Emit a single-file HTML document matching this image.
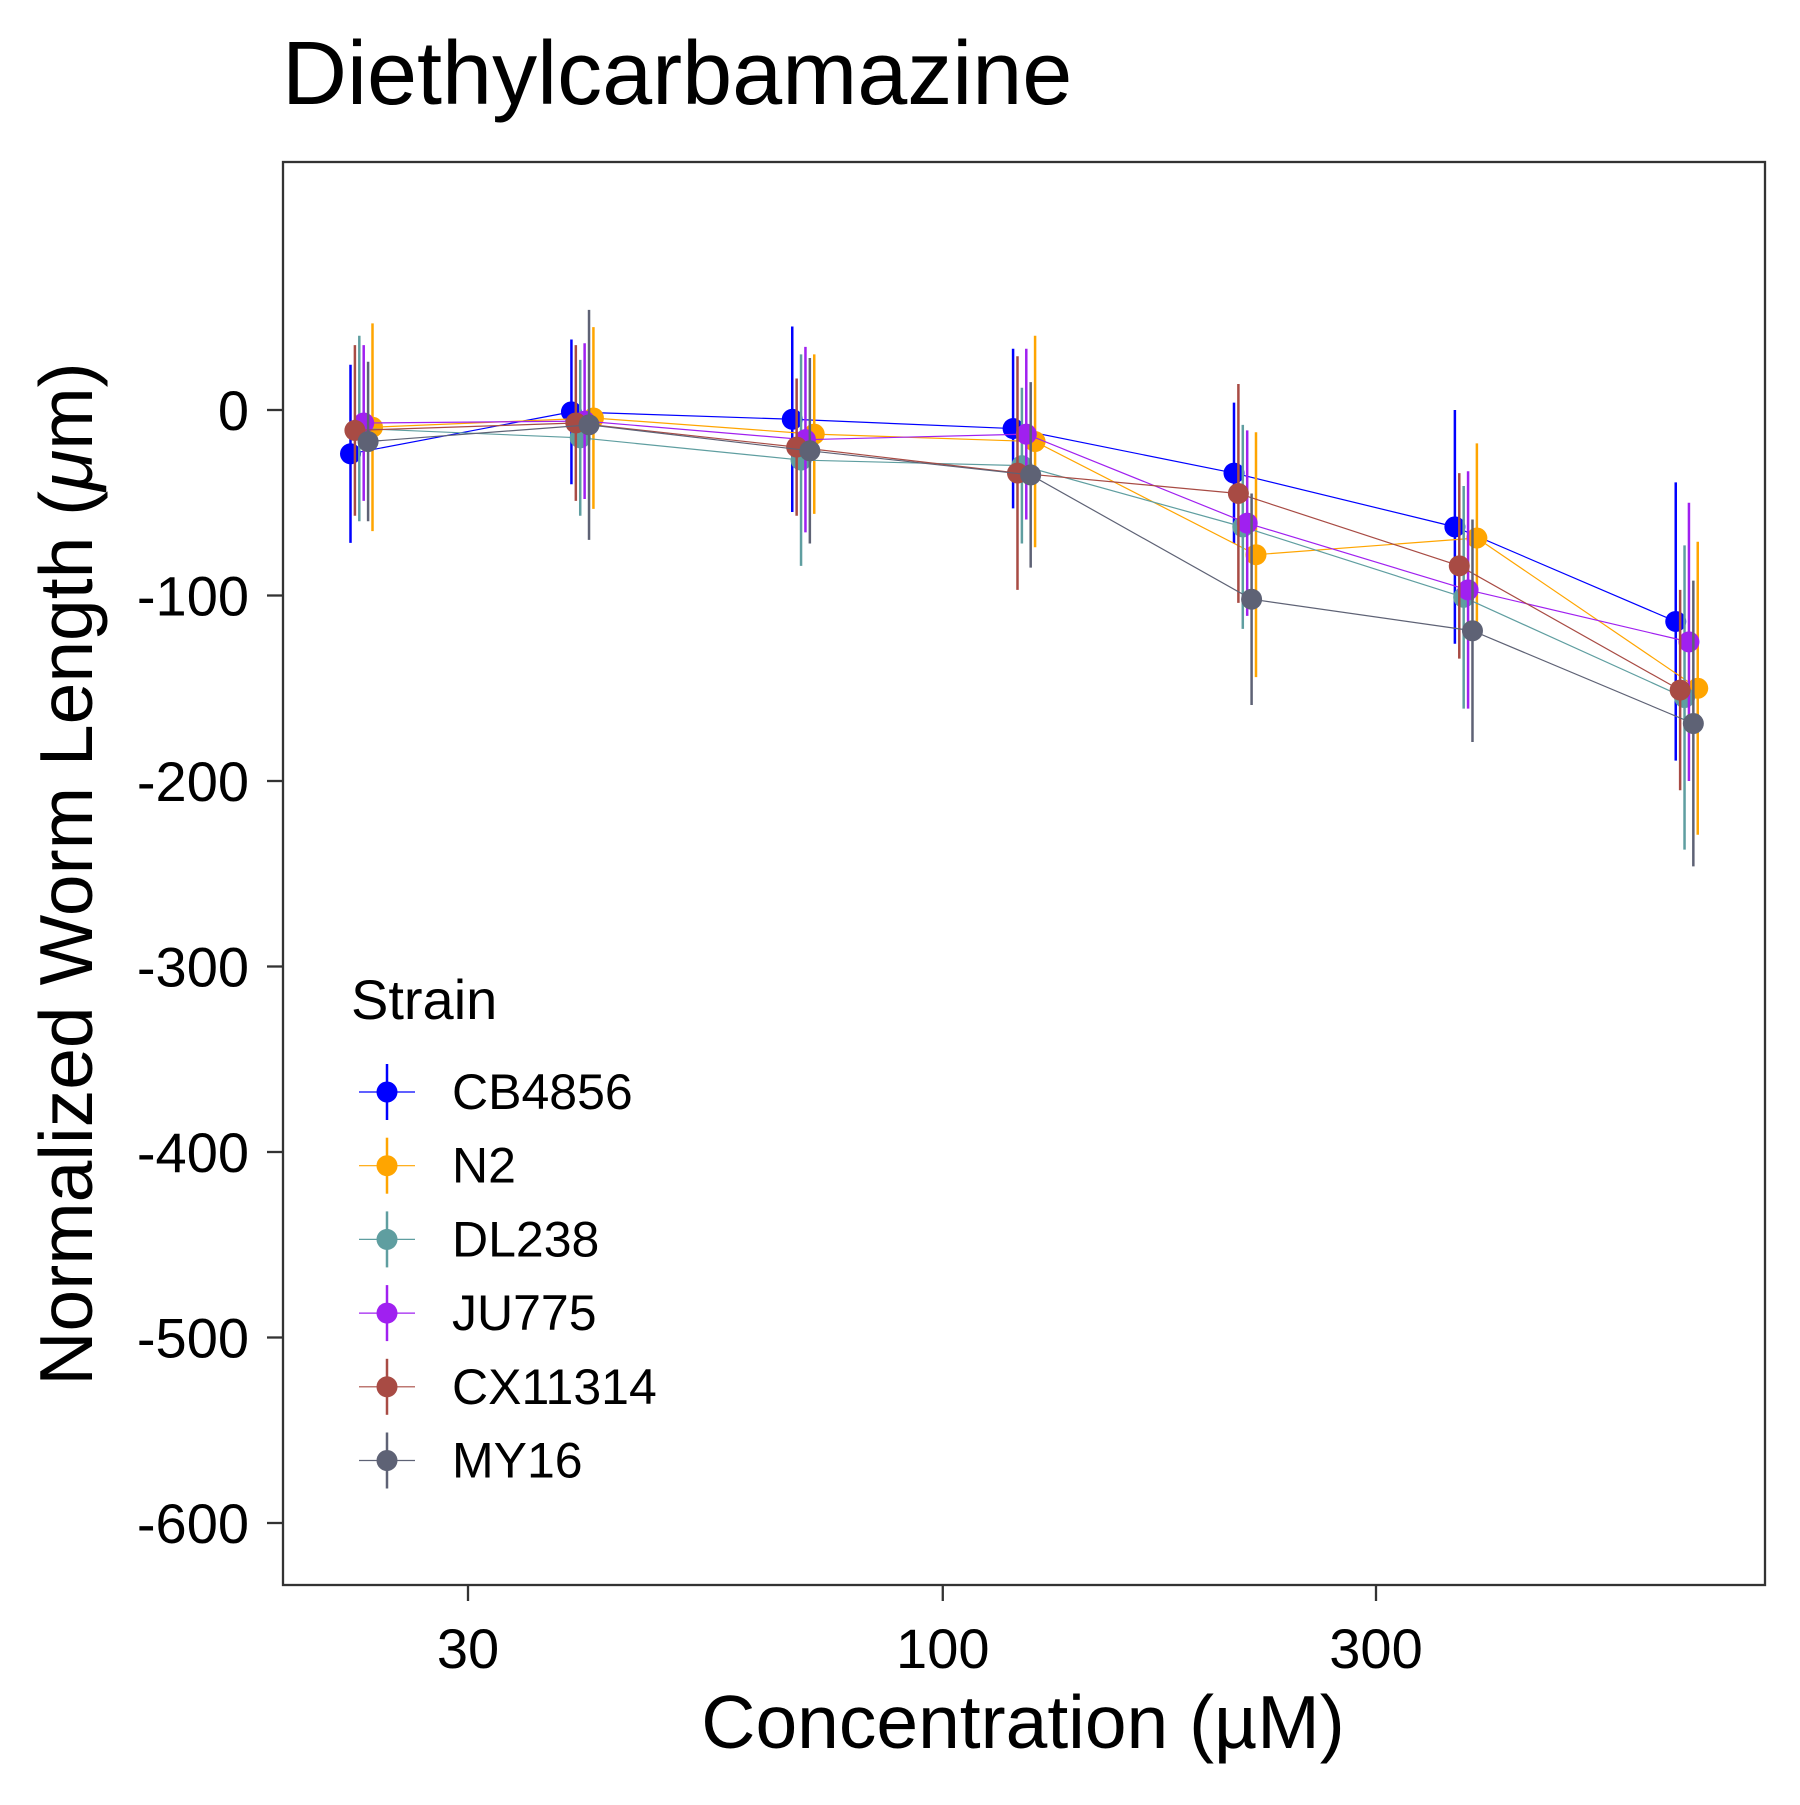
<!DOCTYPE html>
<html><head><meta charset="utf-8"><style>
body{margin:0;background:#fff}
svg text{font-family:"Liberation Sans",Arial,sans-serif}
</style></head><body>
<svg id="chart" width="1800" height="1800" viewBox="0 0 1800 1800" xmlns="http://www.w3.org/2000/svg">
<rect width="1800" height="1800" fill="#fff"/>
<text x="282" y="104" font-size="90">Diethylcarbamazine</text>
<g id="plot"></g>
<rect x="283" y="162" width="1482" height="1423" fill="none" stroke="#333" stroke-width="2.3"/>
<text x="1023" y="1748" font-size="75" text-anchor="middle">Concentration (µM)</text>
<text transform="translate(92,874) rotate(-90)" font-size="75" text-anchor="middle">Normalized Worm Length (<tspan font-style="italic">μ</tspan>m)</text>
<text x="351" y="1019" font-size="56">Strain</text>
<g id="legend"></g>
</svg>
<script>
const concentrations=[22.9,40.1,70.2,122.9,215.2,376.8,659.7];
const strains=["CB4856","N2","DL238","JU775","CX11314","MY16"];
const colors=["#0000FF","#FFA500","#5F9EA0","#A020F0","#A84B44","#5E6275"];
const dodgeRank=[0,5,2,3,1,4];
const meanCB4856=[-23.6,-1,-5,-10,-34,-63,-114];
const sdCB4856=[48,39,50,43,38,63,75];
const meanN2=[-9.3,-4.3,-13,-17,-78,-69,-150];
const sdN2=[56,49,43,57,66,51,79];
const meanDL238=[-10,-15,-27,-30,-63,-101,-155];
const sdDL238=[50,42,57,42,55,60,82];
const meanJU775=[-7,-6,-16,-13,-61,-97,-125];
const sdJU775=[42,42,50,46,50,64,75];
const meanCX11314=[-11,-7,-20,-34,-45,-84,-151];
const sdCX11314=[46,42,37,63,59,50,54];
const meanMY16=[-17,-8,-22,-35,-102,-119,-169];
const sdMY16=[43,62,50,50,57,60,77];
const yTicks=[0,-100,-200,-300,-400,-500,-600];
const xTicks=[30,100,300];
const means=[meanCB4856,meanN2,meanDL238,meanJU775,meanCX11314,meanMY16];
const sds=[sdCB4856,sdN2,sdDL238,sdJU775,sdCX11314,sdMY16];

const NS="http://www.w3.org/2000/svg";
const xScale=c=>468+Math.log10(c/30)*908;
const yScale=v=>410-v*1.855;
const svg=document.getElementById('chart');
const plot=document.getElementById('plot');
function mk(tag,attrs,parent){const e=document.createElementNS(NS,tag);for(const k in attrs)e.setAttribute(k,attrs[k]);parent.appendChild(e);return e;}

yTicks.forEach(t=>{
  const y=yScale(t);
  const l=mk('line',{x1:267,x2:283,y1:y,y2:y,stroke:'#333','stroke-width':2.3},svg);
  
  
  const tx=mk('text',{x:249,y:y+20,'font-size':56,'text-anchor':'end'},svg);
  tx.textContent=t;
  
  
});
xTicks.forEach(t=>{
  const x=xScale(t);
  const l=mk('line',{x1:x,x2:x,y1:1585,y2:1601,stroke:'#333','stroke-width':2.3},svg);
  
  
  const tx=mk('text',{x:x,y:1668,'font-size':56,'text-anchor':'middle'},svg);
  tx.textContent=t;
  
  
});

strains.forEach((s,i)=>{
  const g=mk('g',{},plot);
  
  
  const off=(dodgeRank[i]-2.5)*4.4;
  const pts=concentrations.map((c,j)=>[xScale(c)+off,yScale(means[i][j])]);
  const pl=mk('polyline',{points:pts.map(p=>p.join(',')).join(' '),fill:'none',stroke:colors[i],'stroke-width':1.2},g);
  
  
  concentrations.forEach((c,j)=>{
    const x=pts[j][0];
    const eb=mk('line',{x1:x,x2:x,y1:yScale(means[i][j]+sds[i][j]),y2:yScale(means[i][j]-sds[i][j]),stroke:colors[i],'stroke-width':2.5},g);
    
    
  });
  concentrations.forEach((c,j)=>{
    const pt=mk('circle',{cx:pts[j][0],cy:pts[j][1],r:10.5,fill:colors[i]},g);
    
    
  });
});

const legend=document.getElementById('legend');
strains.forEach((s,i)=>{
  const y=1092+i*73.7;
  const g=mk('g',{},legend);
  
  
  mk('line',{x1:359,x2:415,y1:y,y2:y,stroke:colors[i],'stroke-width':1.2},g);
  mk('line',{x1:387,x2:387,y1:y-28,y2:y+28,stroke:colors[i],'stroke-width':2.5},g);
  mk('circle',{cx:387,cy:y,r:10.5,fill:colors[i]},g);
  const t=mk('text',{x:452,y:y+17,'font-size':50},g);
  t.textContent=s;
});
</script>
</body></html>
